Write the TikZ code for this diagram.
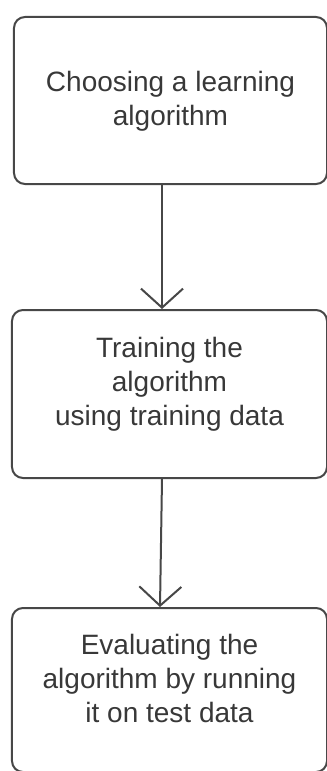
\documentclass[tikz,border=0pt]{standalone}
\usepackage{fontspec}
\setmainfont{Liberation Sans}
\usepackage{tikz}
\usetikzlibrary{arrows,arrows.meta,positioning,shapes,calc}

\begin{document}
\begin{tikzpicture}[x=1bp, y=1bp, line width=2bp, draw=black!72,
  main box/.style={rectangle, rounded corners=11bp, draw=black!72, inner sep=0pt},
  box text/.style={align=center, text=black!78, font=\fontsize{28bp}{34bp}\selectfont},
  flow/.style={draw=black!72, -{Straight Barb[length=19bp,width=42bp,line width=2bp]}}]
\useasboundingbox (0,0) rectangle (326,-771);
\node[main box, minimum width=313bp, minimum height=167bp] (choose) at (170.5,-100.5) {};
\node[main box, minimum width=315bp, minimum height=168bp] (train) at (169.5,-394) {};
\node[main box, minimum width=315bp, minimum height=164bp] (eval) at (169.5,-690) {};
\node[box text] (t1) at ([yshift=-1bp]choose.center) {Choosing a learning\\algorithm};
\node[box text] (t2) at ([yshift=10bp]train.center) {Training the\\algorithm\\using training data};
\node[box text] (t3) at ([yshift=12bp]eval.center) {Evaluating the\\algorithm by running\\it on test data};
\draw[flow] ([xshift=-8.5bp]choose.south) -- ([xshift=-7.5bp]train.north);
\draw[flow] ([xshift=-7.5bp]train.south) -- ([xshift=-9.5bp]eval.north);
\end{tikzpicture}
\end{document}
